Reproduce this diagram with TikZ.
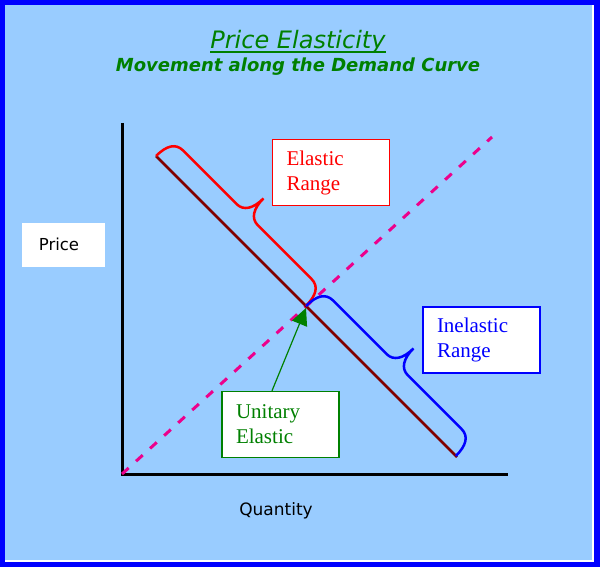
\documentclass[tikz,border=0pt]{standalone}
\usepackage{fontspec}
\setmainfont{Liberation Serif}
\setsansfont{DejaVu Sans}
\newfontfamily\headfont{DejaVu Sans}[ItalicFont={DejaVu Sans Oblique},BoldFont={DejaVu Sans Bold},BoldItalicFont={DejaVu Sans Bold Oblique}]
\usetikzlibrary{arrows.meta}
\pgfdeclarelayer{edgelayer}
\pgfdeclarelayer{nodelayer}
\pgfsetlayers{edgelayer,nodelayer,main}
\definecolor{skyblue}{RGB}{153,204,255}
\definecolor{frameblue}{RGB}{0,0,255}
\definecolor{titlegreen}{RGB}{0,128,0}
\definecolor{maroon}{RGB}{128,0,0}
\tikzstyle{heading}=[inner sep=0pt,text=titlegreen,font=\headfont\itshape\fontsize{24}{28}\selectfont]
\tikzstyle{subheading}=[inner sep=0pt,text=titlegreen,font=\headfont\bfseries\itshape\fontsize{18}{22}\selectfont]
\tikzstyle{axislabel}=[inner sep=0pt,text=black,font=\sffamily\fontsize{16.5}{20}\selectfont]
\tikzstyle{labelbox}=[rectangle,fill=white,line width=1.5pt,align=left,text width=89pt,inner xsep=14pt,minimum width=117pt,minimum height=66pt,font=\fontsize{21}{25}\selectfont]
\tikzstyle{axis}=[line width=3pt,draw=black]
\tikzstyle{demand}=[line width=2.5pt,draw=maroon]
\tikzstyle{unitline}=[line width=3pt,draw=magenta,dash pattern=on 9pt off 10pt]
\tikzstyle{alongline}=[line width=2.5pt,x={(0.7071pt,-0.7071pt)},y={(0.7071pt,0.7071pt)}]
\tikzstyle{pointer}=[line width=1.2pt,draw=titlegreen,-{Triangle[length=17pt,width=16pt]}]
% curly bracket drawn along a 212pt stretch of the demand line
\tikzset{pics/rangebrace/.style={code={
	\draw [pic actions] (0,0) .. controls (0,15) and (5,23) .. (15,23) -- (91,23)
		.. controls (101,23) and (106,32) .. (106,46)
		.. controls (106,32) and (111,23) .. (121,23) -- (197,23)
		.. controls (207,23) and (212,15) .. (212,0);
}}}
\begin{document}
\begin{tikzpicture}[x=1pt,y=-1pt]
	\useasboundingbox (0,0) rectangle (600,567);
	\begin{pgfonlayer}{edgelayer}
		\fill [frameblue] (0,0) rectangle (600,567);
		\fill [white] (5,5) rectangle (594,562);
		\fill [skyblue] (5,5) rectangle (592,560);
	\end{pgfonlayer}
	\begin{pgfonlayer}{nodelayer}
		\node [style=heading] (0) at (298,42) {Price Elasticity};
		\node [style=subheading] (1) at (298,67) {Movement along the Demand Curve};
		\node [style=labelbox,draw=red,text=red] (2) at (331,172.5) {Elastic\\Range};
		\node [style=labelbox,draw=frameblue,text=frameblue] (3) at (481.5,340) {Inelastic\\Range};
		\node [style=labelbox,draw=titlegreen,text=titlegreen] (4) at (280.5,424.5) {Unitary\\Elastic};
		\node [fill=white,minimum width=83pt,minimum height=44pt] (5) at (63.5,245) {};
		\node [style=axislabel] (6) at (59,244) {Price};
		\node [style=axislabel,font=\sffamily\fontsize{17}{20}\selectfont] (7) at (276,511) {Quantity};
	\end{pgfonlayer}
	\coordinate (o) at (122,474);
	\coordinate (ytop) at (122,123);
	\coordinate (xend) at (508,474);
	\coordinate (d1) at (156,156);
	\coordinate (d2) at (457,457);
	\coordinate (m) at (306,306);
	\coordinate (q) at (492,137);
	\begin{pgfonlayer}{edgelayer}
		\draw [style=axis] (ytop) -- (o) -- (xend);
		\draw [style=unitline] (o) -- (q);
		\draw [style=demand] (d1) -- (d2);
		\pic [style=alongline,draw=red] at (d1) {rangebrace};
		\pic [style=alongline,draw=frameblue] at (m) {rangebrace};
		\draw [titlegreen,line width=2pt] ([yshift=-3pt]0.base west) -- ([yshift=-3pt]0.base east);
		\draw [style=pointer] ([xshift=-8.5pt]4.north) -- ([yshift=-2pt]m);
	\end{pgfonlayer}
\end{tikzpicture}
\end{document}
